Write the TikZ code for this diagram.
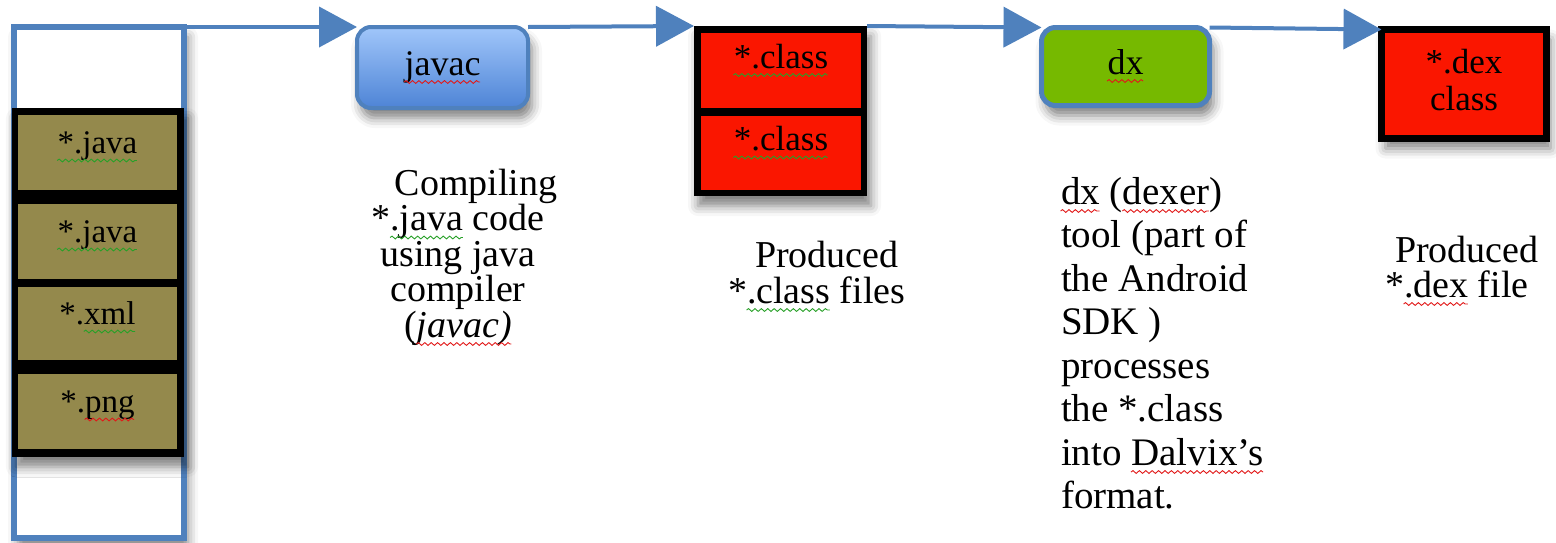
\documentclass[tikz,border=0pt]{standalone}
\usepackage{fontspec}
\setmainfont{Liberation Serif}
\usetikzlibrary{arrows.meta,shadows.blur,decorations.pathmorphing}

\definecolor{flowblue}{RGB}{79,129,189}
\definecolor{srcolive}{RGB}{148,137,76}
\definecolor{classred}{RGB}{250,22,0}
\definecolor{dxgreen}{RGB}{118,185,0}
\definecolor{boxtop}{RGB}{160,198,250}
\definecolor{boxbot}{RGB}{78,132,214}
\definecolor{sqred}{RGB}{225,25,25}
\definecolor{sqgreen}{RGB}{40,160,40}

% spell-checker style wavy underlines
\newlength\sqwidth
\newsavebox\sqbox
\newcommand\wavyline[2]{%
  \sbox\sqbox{#2}\setlength\sqwidth{\wd\sqbox}%
  \mbox{\usebox\sqbox\llap{\tikz[baseline=0pt,x=1pt,y=1pt,sharp corners]
    \draw[#1,line width=0.45pt,sharp corners,decorate,
      decoration={snake,amplitude=0.7pt,segment length=3.2pt}]
      (0pt,-3.5pt) -- (\sqwidth,-3.5pt);}}}
\newcommand\redsq[1]{\wavyline{sqred}{#1}}
\newcommand\greensq[1]{\wavyline{sqgreen}{#1}}

\begin{document}
\begin{tikzpicture}[x=0.5pt,y=-0.5pt,
  every node/.style={outer sep=0pt,inner sep=0pt},
  softshadow/.style={blur shadow={shadow xshift=2pt,shadow yshift=-5pt,
      shadow blur radius=5pt,shadow opacity=50}},
  srcframe/.style={draw=flowblue,line width=2.6pt,fill=white,
      minimum width=85pt,minimum height=255.5pt,softshadow},
  stack/.style={fill=black,softshadow},
  filebox/.style={fill=srcolive,minimum width=79.5pt,minimum height=37.5pt,
      font=\fontsize{16.5}{19}\selectfont,text height=11pt,text depth=10pt},
  classbox/.style={fill=classred,minimum width=80pt,minimum height=37.5pt,
      font=\fontsize{17.5}{20}\selectfont,text height=12pt,text depth=14.5pt},
  toolbox/.style={rounded corners=7pt,font=\fontsize{18}{20}\selectfont,
      text height=12pt,text depth=4.5pt,softshadow},
  javacbox/.style={toolbox,draw=flowblue,line width=2pt,
      top color=boxtop,bottom color=boxbot,
      minimum width=85.5pt,minimum height=40.5pt},
  dxbox/.style={toolbox,draw=flowblue,line width=2.5pt,fill=dxgreen,
      minimum width=84pt,minimum height=39pt},
  dexbox/.style={draw=black,line width=3.5pt,fill=classred,
      minimum width=82.5pt,minimum height=54.5pt,align=center,
      font=\fontsize{17.5}{18.5}\selectfont,text depth=4pt,softshadow},
  flow/.style={draw=flowblue,line width=2pt,-{Triangle[length=19pt,width=20pt]}},
  note/.style={font=\fontsize{19}{17.75}\selectfont,anchor=base},
  longnote/.style={font=\fontsize{19.5}{21.75}\selectfont,anchor=base west,align=left}
]
\useasboundingbox (0,0) rectangle (1556,542);

% source folder with its files
\node[srcframe] (src) at (99,282.5) {};
\node[stack,minimum width=86pt,minimum height=174.5pt] (srcstack) at (98,282.5) {};
\node[filebox] (java1) at (97.5,152.5) {\greensq{*.java}};
\node[filebox] (java2) at (97.5,241.5) {\greensq{*.java}};
\node[filebox,minimum height=36.5pt] (xml) at (97.5,323.5) {*.\greensq{xml}};
\node[filebox] (png) at (97.5,411.5) {*.\redsq{png}};

% compiler
\node[javacbox] (javac) at (442.5,67.5) {\redsq{javac}};

% compiled classes
\node[stack,minimum width=86.5pt,minimum height=85pt] (classes) at (780.5,111) {};
\node[classbox] (class1) at (781,70.5) {\greensq{*.class}};
\node[classbox,minimum height=37pt] (class2) at (781,153) {\greensq{*.class}};

% dexer
\node[dxbox] (dx) at (1125.5,66.5) {\redsq{dx}};

% result
\node[dexbox] (dex) at (1464,84) {*.dex\\class};

% flow
\draw[flow] (src.north east) -- (javac.north west);
\draw[flow] (javac.north east) -- (classes.north west);
\draw[flow] (classes.north east) -- (dx.north west);
\draw[flow] (dx.north east) -- (dex.north west);

% explanations (base anchor sits on the last line)
\node[note,align=center] (compnote) at (458,337)
  {\hspace*{18pt}Compiling\\{}*\greensq{.java} code\\using java\\compiler\\(\redsq{\textit{javac)}}};
\node[note,align=left,anchor=base west] (classnote) at (728,303)
  {\hspace*{13.5pt}Produced\\{}*\greensq{.class} files};
\node[longnote] (dxnote) at (1061,508.5)
  {\redsq{dx} (\redsq{dexer})\\tool (part of\\the Android\\SDK )\\processes\\the *.class\\into \redsq{Dalvix’s}\\format.};
\node[note,font=\fontsize{19}{17.5}\selectfont,align=left,anchor=base west] (dexnote) at (1385,297)
  {\hspace*{5pt}Produced\\{}*\redsq{.dex} file};
\end{tikzpicture}
\end{document}
